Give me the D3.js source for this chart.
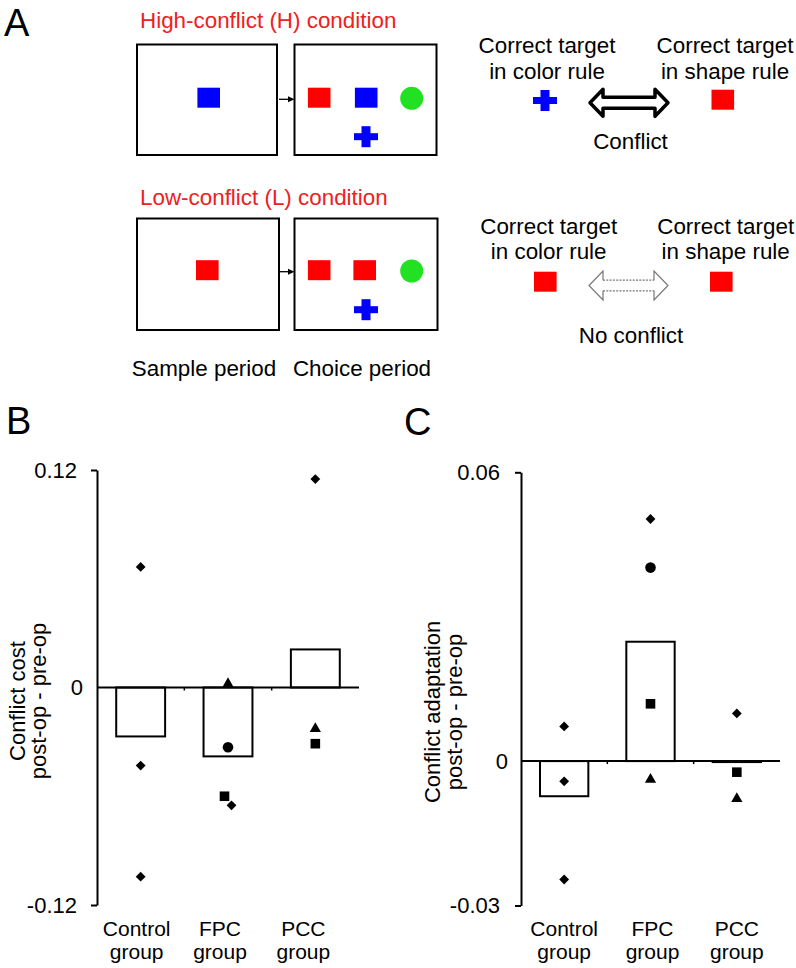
<!DOCTYPE html>
<html>
<head>
<meta charset="utf-8">
<script src="https://cdn.jsdelivr.net/npm/d3@7"></script>
<style>
  body { margin: 0; background: #fff; }
  svg { display: block; font-family: "Liberation Sans", Arial, sans-serif; }
</style>
</head>
<body>
<script>
// groups shared by panels B and C
const groups = ["Control", "FPC", "PCC"];
const groupLabels = [["Control", "group"], ["FPC", "group"], ["PCC", "group"]];

// panel B: conflict cost (post-op - pre-op)
const costTicks = [-0.12, 0, 0.12];
const costMeans = [-0.027, -0.038, 0.021];
const costPoints = [
  ["Control", "diamond", 0.0665],
  ["Control", "diamond", -0.0431],
  ["Control", "diamond", -0.1044],
  ["FPC", "triangle", 0.002],
  ["FPC", "circle", -0.033],
  ["FPC", "square", -0.060],
  ["FPC", "diamond", -0.065],
  ["PCC", "diamond", 0.115],
  ["PCC", "triangle", -0.0227],
  ["PCC", "square", -0.031]
];

// panel C: conflict adaptation (post-op - pre-op)
const adaptTicks = [-0.03, 0, 0.06];
const adaptMeans = [-0.0073, 0.0248, -0.0002];
const adaptPoints = [
  ["Control", "diamond", 0.0072],
  ["Control", "diamond", -0.0042],
  ["Control", "diamond", -0.0246],
  ["FPC", "diamond", 0.0503],
  ["FPC", "circle", 0.0402],
  ["FPC", "square", 0.0119],
  ["FPC", "triangle", -0.0038],
  ["PCC", "diamond", 0.0099],
  ["PCC", "square", -0.0023],
  ["PCC", "triangle", -0.0078]
];

const w = 796;
const h = 968;
const red = "#ff0000";
const blue = "#0000ff";
const green = "#22e022";
const textRed = "#ee2020";

const svg = d3.select("body")
  .append("svg")
  .attr("width", w)
  .attr("height", h);

// panel letters
[["A", 4, 36], ["B", 6, 434], ["C", 404, 435]].forEach(([t, x, y]) => {
  svg.append("text").text(t).attr("x", x).attr("y", y).attr("font-size", 38);
});

// ---------- panel A (task schematic) ----------
const A = svg.append("g").attr("font-size", 22.4);

function label(txt, x, y, anchor, color) {
  A.append("text").text(txt)
    .attr("x", x).attr("y", y)
    .attr("text-anchor", anchor || "middle")
    .attr("fill", color || "#000");
}
function box(x, y, bw, bh) {
  A.append("rect").attr("x", x).attr("y", y).attr("width", bw).attr("height", bh)
    .attr("fill", "none").attr("stroke", "#000").attr("stroke-width", 2);
}
function sq(cx, cy, color) {
  A.append("rect").attr("x", cx - 11.3).attr("y", cy - 10).attr("width", 22.6).attr("height", 20)
    .attr("fill", color);
}
function cross(cx, cy) {
  A.append("rect").attr("x", cx - 4.5).attr("y", cy - 10.5).attr("width", 9).attr("height", 21).attr("fill", blue);
  A.append("rect").attr("x", cx - 12).attr("y", cy - 3.5).attr("width", 24).attr("height", 7).attr("fill", blue);
}
function dot(cx, cy) {
  A.append("circle").attr("cx", cx).attr("cy", cy).attr("r", 11.5).attr("fill", green);
}
function smallArrow(y) {
  A.append("line").attr("x1", 279).attr("x2", 289).attr("y1", y).attr("y2", y)
    .attr("stroke", "#000").attr("stroke-width", 1.3);
  A.append("path").attr("d", `M288,${y - 3}L294.5,${y}L288,${y + 3}Z`).attr("fill", "#000");
}

// high-conflict row
label("High-conflict (H) condition", 140, 28, "start", textRed);
box(137, 44.5, 140, 110.5);
box(294.5, 44.5, 142, 110.5);
smallArrow(99.3);
sq(208.7, 97.7, blue);
sq(319.2, 97.7, red);
sq(366.2, 97.7, blue);
dot(411.7, 98.3);
cross(366, 136.7);

label("Correct target", 547, 53);
label("in color rule", 547, 79);
label("Correct target", 725, 53);
label("in shape rule", 725, 79);
cross(545, 100.5);
sq(722.8, 99.7, red);
{
  const cy = 102.8;
  A.append("path")
    .attr("d", `M590,${cy}L603,${cy - 13.5}L603,${cy - 5.5}L655,${cy - 5.5}L655,${cy - 13.5}L668,${cy}` +
      `L655,${cy + 13.5}L655,${cy + 5.5}L603,${cy + 5.5}L603,${cy + 13.5}Z`)
    .attr("fill", "#fff").attr("stroke", "#000").attr("stroke-width", 3.5)
    .attr("stroke-linejoin", "round");
}
label("Conflict", 630.5, 149);

// low-conflict row
label("Low-conflict (L) condition", 140, 205, "start", textRed);
box(137, 218.5, 142, 111.5);
box(294.5, 218.5, 143, 111.5);
smallArrow(271.7);
sq(207.3, 270.2, red);
sq(319.2, 270.2, red);
sq(364.7, 270.2, red);
dot(411.7, 271);
cross(366, 309.7);

label("Sample period", 204, 376);
label("Choice period", 362, 376);

label("Correct target", 548.7, 234);
label("in color rule", 548.7, 259);
label("Correct target", 725.7, 234);
label("in shape rule", 725.7, 259);
sq(545.3, 281.7, red);
sq(721.3, 281.7, red);
{
  const cy = 285.5;
  const g = A.append("g").attr("fill", "none").attr("stroke", "#777").attr("stroke-width", 1.2);
  g.append("path").attr("d", `M603,${cy - 5.3}L603,${cy - 14.5}L589,${cy}L603,${cy + 14.5}L603,${cy + 5.3}`);
  g.append("path").attr("d", `M654,${cy - 5.3}L654,${cy - 14.5}L668,${cy}L654,${cy + 14.5}L654,${cy + 5.3}`);
  g.append("path").attr("d", `M603,${cy - 5.3}H654M603,${cy + 5.3}H654`).attr("stroke-dasharray", "2,1.3");
}
label("No conflict", 631, 342.7);

// ---------- panels B and C ----------
const shapes = {
  diamond: { type: d3.symbolSquare, size: 48, rotate: 45 },
  square: { type: d3.symbolSquare, size: 92, rotate: 0 },
  circle: { type: d3.symbolCircle, size: 88, rotate: 0 },
  triangle: { type: d3.symbolTriangle, size: 55, rotate: 0 }
};

function drawPanel(cfg) {
  const g = svg.append("g");

  const x = d3.scaleBand().domain(groups).range([cfg.x0, cfg.x1]).padding(0);
  const y = d3.scaleLinear().domain(cfg.domain).range([cfg.yBottom, cfg.yTop]);
  const barW = x.bandwidth() * 0.56;
  const cx = (d) => x(d) + x.bandwidth() / 2;

  // y axis
  const axis = g.append("g")
    .attr("transform", `translate(${cfg.x0},0)`)
    .call(d3.axisLeft(y).tickValues(cfg.ticks).tickSize(6).tickSizeOuter(0).tickPadding(cfg.pad)
      .tickFormat((d) => (d === 0 ? "0" : String(d))));
  axis.select(".domain").attr("stroke-width", 2);
  axis.selectAll(".tick line").attr("stroke-width", 2);
  axis.selectAll(".tick text").attr("font-size", 22).attr("font-family", "Liberation Sans, Arial, sans-serif");
  axis.selectAll(".tick").filter((d) => d === 0).select("line").remove();
  axis.selectAll(".tick").filter((d) => d === 0).select("text").attr("x", -cfg.zeroPad);

  // bars
  g.selectAll("rect.bar")
    .data(cfg.means)
    .enter()
    .append("rect")
    .attr("class", "bar")
    .attr("x", (d, i) => cx(groups[i]) - barW / 2)
    .attr("y", (d) => Math.min(y(d), y(0)))
    .attr("width", barW)
    .attr("height", (d) => Math.abs(y(d) - y(0)))
    .attr("fill", "#fff")
    .attr("stroke", "#000")
    .attr("stroke-width", 2);

  // zero line with small group separators
  g.append("line")
    .attr("x1", cfg.x0).attr("x2", cfg.x1)
    .attr("y1", y(0)).attr("y2", y(0))
    .attr("stroke", "#000").attr("stroke-width", 2);
  groups.slice(1).forEach((grp) => {
    g.append("line")
      .attr("x1", x(grp)).attr("x2", x(grp))
      .attr("y1", y(0)).attr("y2", y(0) + 3)
      .attr("stroke", "#000").attr("stroke-width", 1.5);
  });

  // individual animals; nudge sideways when two marks overlap
  const pts = cfg.points.map(([grp, shape, v]) => ({ grp, shape, v, py: y(v), dx: 0 }));
  groups.forEach((grp) => {
    const inGroup = pts.filter((p) => p.grp === grp).sort((a, b) => a.py - b.py);
    for (let i = 1; i < inGroup.length; i++) {
      if (inGroup[i].py - inGroup[i - 1].py < 11) {
        inGroup[i - 1].dx = -3.5;
        inGroup[i].dx = 3.5;
      }
    }
  });
  g.selectAll("path.pt")
    .data(pts)
    .enter()
    .append("path")
    .attr("class", "pt")
    .attr("d", (d) => d3.symbol().type(shapes[d.shape].type).size(shapes[d.shape].size)())
    .attr("transform", (d) => `translate(${cx(d.grp) + d.dx},${d.py}) rotate(${shapes[d.shape].rotate})`)
    .attr("fill", "#000");

  // group labels
  groupLabels.forEach((lines, i) => {
    lines.forEach((t, j) => {
      g.append("text").text(t)
        .attr("x", cx(groups[i]) + cfg.labelShift[i])
        .attr("y", 936 + j * 23)
        .attr("text-anchor", "middle")
        .attr("font-size", 21);
    });
  });

  // y title
  cfg.title.forEach((t, j) => {
    g.append("text").text(t)
      .attr("transform", `translate(${cfg.titleX[j]},${cfg.titleY}) rotate(-90)`)
      .attr("text-anchor", "middle")
      .attr("font-size", 22);
  });
}

drawPanel({
  x0: 97, x1: 359, yTop: 470, yBottom: 905,
  domain: [-0.12, 0.12], ticks: costTicks, means: costMeans, points: costPoints,
  pad: 14, zeroPad: 14, labelShift: [-4, -8, -12],
  title: ["Conflict cost", "post-op - pre-op"], titleX: [25, 46], titleY: 701
});

drawPanel({
  x0: 521, x1: 780, yTop: 472.3, yBottom: 905.5,
  domain: [-0.03, 0.06], ticks: adaptTicks, means: adaptMeans, points: adaptPoints,
  pad: 15, zeroPad: 13, labelShift: [0, 2, 0],
  title: ["Conflict adaptation", "post-op - pre-op"], titleX: [440, 461.5], titleY: 712
});
</script>
</body>
</html>
